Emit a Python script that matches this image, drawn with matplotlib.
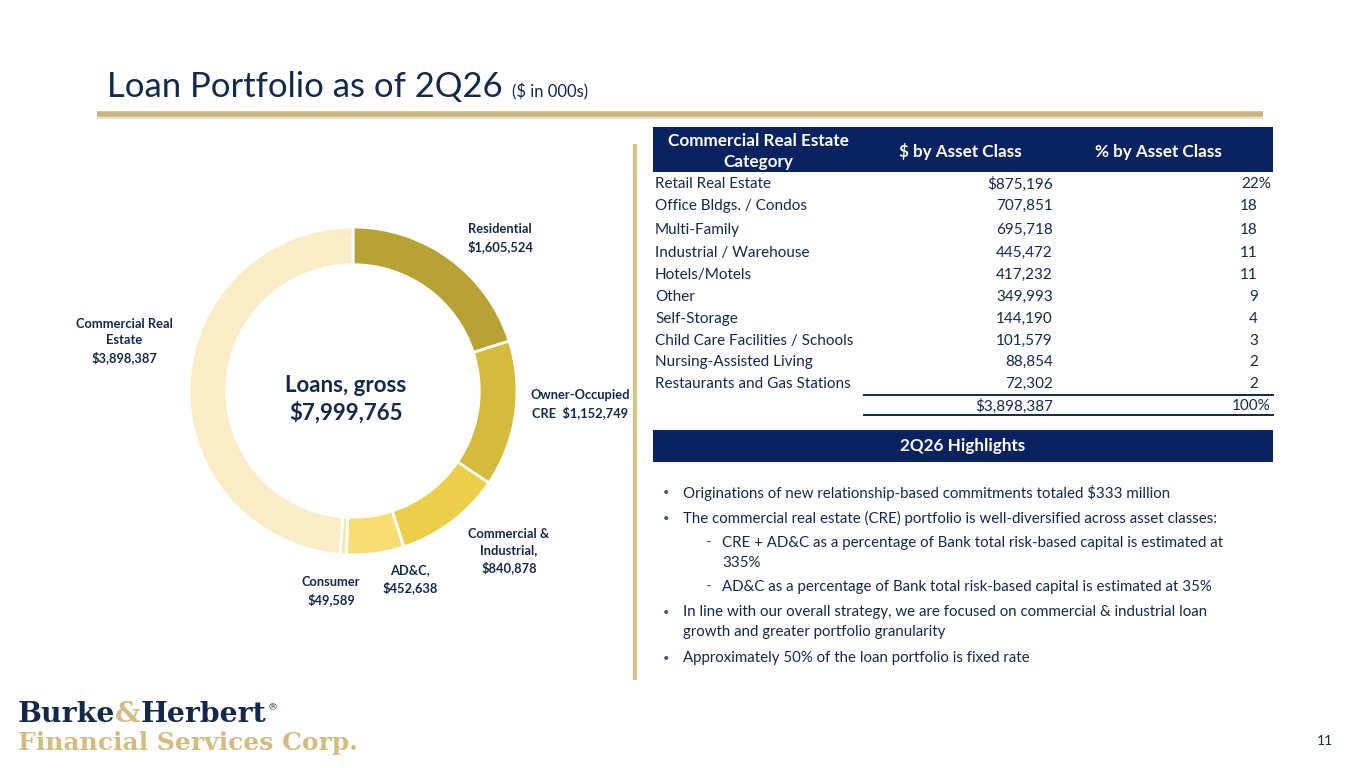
import matplotlib
matplotlib.use("Agg")
import matplotlib.pyplot as plt
from matplotlib.patches import Rectangle

# ---- data ----
segments = ["Residential", "Owner-Occupied CRE", "Commercial & Industrial",
            "AD&C", "Consumer", "Commercial Real Estate"]
balances = [1605524, 1152749, 840878, 452638, 49589, 3898387]
seg_colors = ["#B8A236", "#D5BA3D", "#EBCF48", "#F7DD74", "#F8E7A9", "#FBEDC7"]
seg_labels = ["Residential\n$1,605,524", "Owner-Occupied\nCRE  $1,152,749",
              "Commercial &\nIndustrial,\n$840,878", "AD&C,\n$452,638",
              "Consumer\n$49,589", "Commercial Real\nEstate\n$3,898,387"]
total_loans = "$7,999,765"

cre_categories = ["Retail Real Estate", "Office Bldgs. / Condos", "Multi-Family",
                  "Industrial / Warehouse", "Hotels/Motels", "Other", "Self-Storage",
                  "Child Care Facilities / Schools", "Nursing-Assisted Living",
                  "Restaurants and Gas Stations"]
cre_dollars = ["$875,196", "707,851", "695,718", "445,472", "417,232", "349,993",
               "144,190", "101,579", "88,854", "72,302"]
cre_pct = ["22%", "18", "18", "11", "11", "9", "4", "3", "2", "2"]
cre_total = "$3,898,387"
cre_total_pct = "100%"

highlights = [
    ("•", ["Originations of new relationship-based commitments totaled $333 million"]),
    ("•", ["The commercial real estate (CRE) portfolio is well-diversified across asset classes:"]),
    ("-", ["CRE + AD&C as a percentage of Bank total risk-based capital is estimated at", "335%"]),
    ("-", ["AD&C as a percentage of Bank total risk-based capital is estimated at 35%"]),
    ("•", ["In line with our overall strategy, we are focused on commercial & industrial loan",
           "growth and greater portfolio granularity"]),
    ("•", ["Approximately 50% of the loan portfolio is fixed rate"]),
]

NAVY = "#0B2260"
TEXT = "#13294B"
GOLD = "#D3BC82"
FONT = "Lato"

plt.rcParams['font.family'] = [FONT, 'DejaVu Sans']

fig = plt.figure(figsize=(13.65, 7.68), dpi=100)
fig.patch.set_facecolor("white")
ax = fig.add_axes([0, 0, 1, 1])
ax.set_xlim(0, 1365)
ax.set_ylim(768, 0)
ax.axis("off")
renderer = fig.canvas.get_renderer()


def fit(x, y, s, width, **kw):
    # shrink/grow a text so it spans roughly `width` pixels
    t = ax.text(x, y, s, **kw)
    w = t.get_window_extent(renderer).width
    t.set_fontsize(t.get_fontsize() * width / w)
    return t


def right_edge(t):
    return t.get_window_extent(renderer).x1


# title
title = fit(107, 97, "Loan Portfolio as of 2Q26", 395, fontsize=29, color=TEXT,
            va="baseline")
ax.text(right_edge(title) + 9, 97, "($ in 000s)", fontsize=12, color=TEXT,
        va="baseline")
ax.plot([97, 1263], [114, 114], color="#CBB57A", lw=4, solid_capstyle="butt")
ax.plot([97, 1263], [117.5, 117.5], color="#E4E1DA", lw=1.5, solid_capstyle="butt")

# vertical divider
ax.plot([635, 635], [146, 678], color="#D9C283", lw=3)

# donut
cx, cy, R = 353, 391, 164
side = 2 * R * 1.2
dax = fig.add_axes([(cx - side / 2) / 1365, (768 - cy - side / 2) / 768,
                    side / 1365, side / 768])
dax.pie(balances, colors=seg_colors, startangle=90, counterclock=False,
        wedgeprops=dict(width=0.23, edgecolor="white", linewidth=2))
dax.set_xlim(-1.2, 1.2)
dax.set_ylim(-1.2, 1.2)
dax.axis("off")

label_pos = [(500, 238), (580, 404), (509, 551), (410, 579), (331, 591), (124, 341)]
for (lx, ly), lab in zip(label_pos, seg_labels):
    ax.text(lx, ly, lab, fontsize=9.3, fontweight="bold", color=TEXT,
            ha="center", va="center", linespacing=1.4)

ax.text(346, 385, "Loans, gross", fontsize=16, fontweight="bold", color=TEXT,
        ha="center", va="center")
ax.text(346, 413, total_loans, fontsize=16, fontweight="bold", color=TEXT,
        ha="center", va="center")

# CRE table
ax.add_patch(Rectangle((653, 127), 620, 45, color=NAVY, lw=0))
ax.text(758, 141, "Commercial Real Estate", fontsize=12.3, fontweight="bold",
        color="white", ha="center", va="center")
ax.text(758, 162, "Category", fontsize=12.3, fontweight="bold",
        color="white", ha="center", va="center")
ax.text(960, 152, "$ by Asset Class", fontsize=12.3, fontweight="bold",
        color="white", ha="center", va="center")
ax.text(1158, 152, "% by Asset Class", fontsize=12.3, fontweight="bold",
        color="white", ha="center", va="center")

row_y = [184, 206, 230, 253, 275, 297, 319, 341, 362, 384]
for i, (cat, d, p) in enumerate(zip(cre_categories, cre_dollars, cre_pct)):
    y = row_y[i]
    ax.text(655, y, cat, fontsize=11, color=TEXT, va="center")
    ax.text(1053, y, d, fontsize=11, color=TEXT, va="center", ha="right")
    px = 1271 if p.endswith("%") else 1258
    ax.text(px, y, p, fontsize=11, color=TEXT, va="center", ha="right")

ax.plot([864, 1273], [395, 395], color=TEXT, lw=1.4)
ax.text(1053, 406, cre_total, fontsize=11, color=TEXT, va="center", ha="right")
ax.text(1271, 406, cre_total_pct, fontsize=11, color=TEXT, va="center", ha="right")
ax.plot([864, 1273], [415, 415], color=TEXT, lw=1.4)

# highlights
ax.add_patch(Rectangle((653, 430), 620, 32, color=NAVY, lw=0))
ax.text(963, 446, "2Q26 Highlights", fontsize=12.3, fontweight="bold",
        color="white", ha="center", va="center")

hl_y = [493, 518, 543, 587, 612, 658]
for (mark, lines), y in zip(highlights, hl_y):
    if mark == "•":
        mx, tx, mfs = 666, 683, 8
    else:
        mx, tx, mfs = 709, 722, 11
    ax.text(mx, y, mark, fontsize=mfs, color="#4A5568", va="center", ha="center")
    for k, line in enumerate(lines):
        ax.text(tx, y + 20 * k, line, fontsize=10.8, color=TEXT, va="center",
                ha="left")

# logo
SERIF = "DejaVu Serif"
b = fit(18, 722, "Burke", 97, fontsize=19, fontweight="bold", color=TEXT,
        family=SERIF, va="baseline")
fs = b.get_fontsize()
amp = ax.text(right_edge(b), 722, "&", fontsize=fs, fontweight="bold", color=GOLD,
              family=SERIF, va="baseline")
h = ax.text(right_edge(amp), 722, "Herbert", fontsize=fs, fontweight="bold",
            color=TEXT, family=SERIF, va="baseline")
ax.text(right_edge(h) + 1, 710, "®", fontsize=fs * 0.35, color=TEXT, family=SERIF,
        va="baseline")
fit(18, 750, "Financial Services Corp.", 340, fontsize=21, fontweight="bold",
    color=GOLD, family=SERIF, va="baseline")

# page number
ax.text(1333, 741, "11", fontsize=10, color=TEXT, ha="right", va="center")

fig.savefig("out.png", dpi=100, facecolor="white")
